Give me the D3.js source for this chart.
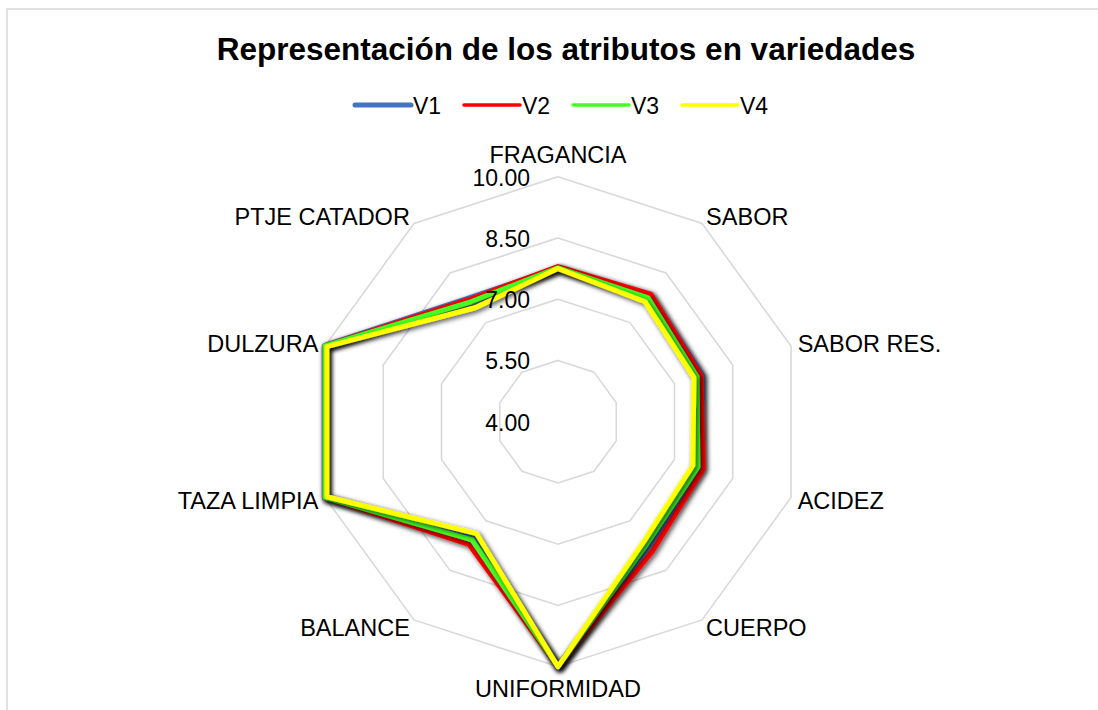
<!DOCTYPE html>
<html>
<head>
<meta charset="utf-8">
<script src="https://cdn.jsdelivr.net/npm/d3@7"></script>
<style>
  html, body { margin: 0; padding: 0; background: #fff; }
  svg { display: block; font-family: "Liberation Sans", Arial, sans-serif; }
</style>
</head>
<body>
<svg id="chart" width="1098" height="710"></svg>
<script>
const title = "Representación de los atributos en variedades";
const categories = ["FRAGANCIA", "SABOR", "SABOR RES.", "ACIDEZ", "CUERPO", "UNIFORMIDAD", "BALANCE", "TAZA LIMPIA", "DULZURA", "PTJE CATADOR"];
const seriesNames = ["V1", "V2", "V3", "V4"];
const v1 = [7.75, 7.83, 7.70, 7.67, 7.75, 10.00, 7.50, 10.00, 10.00, 7.72];
const v2 = [7.80, 7.86, 7.68, 7.74, 7.93, 10.00, 7.71, 10.00, 10.00, 7.70];
const v3 = [7.77, 7.75, 7.58, 7.60, 7.70, 10.00, 7.58, 10.00, 10.00, 7.63];
const v4 = [7.75, 7.63, 7.50, 7.47, 7.60, 10.00, 7.39, 9.95, 9.95, 7.45];
const tickValues = [4.00, 5.50, 7.00, 8.50, 10.00];
const colors = ["#4472C4", "#FF0000", "#44FF22", "#FFFF00"];
const widths = [6.5, 5, 5, 5];
const legendWidths = [5, 3.5, 3.5, 3.5];

const seriesValues = [v1, v2, v3, v4];

const svg = d3.select("#chart");
const W = 1098, H = 710;
const cx = 558, cy = 421.7, R = 245;

// border (chart area frame)
svg.append("rect").attr("x", 7).attr("y", 9).attr("width", W + 20).attr("height", H + 20)
  .attr("fill", "#fff").attr("stroke", "#D9D9D9").attr("stroke-width", 1.5);

// drop shadow filter
const defs = svg.append("defs");
const f = defs.append("filter").attr("id", "shadow").attr("x", "-20%").attr("y", "-20%").attr("width", "140%").attr("height", "140%");
f.append("feDropShadow").attr("dx", 2).attr("dy", 2).attr("stdDeviation", 2.5)
  .attr("flood-color", "#000").attr("flood-opacity", 0.7);

// title
svg.append("text").attr("x", 566).attr("y", 60).attr("text-anchor", "middle")
  .attr("font-size", 31.5).attr("font-weight", "bold").attr("fill", "#000").text(title);

// legend
const legendY = 105, itemStep = 109, lineLen = 56;
const lg = svg.append("g");
seriesNames.forEach((name, i) => {
  const x0 = 355 + i * itemStep;
  lg.append("line").attr("x1", x0).attr("x2", x0 + lineLen).attr("y1", legendY).attr("y2", legendY)
    .attr("stroke", colors[i]).attr("stroke-width", legendWidths[i]).attr("stroke-linecap", "round");
  lg.append("text").attr("x", x0 + lineLen + 2).attr("y", legendY + 8.5).attr("font-size", 23)
    .attr("fill", "#000").text(name);
});

// scales
const r = d3.scaleLinear().domain([4, 10]).range([0, R]);
const angle = d3.scaleBand().domain(categories).range([0, 2 * Math.PI]).paddingInner(0).paddingOuter(0).align(0);
const ang = c => angle(c);

// grid rings
const gridG = svg.append("g");
tickValues.slice(1).forEach(t => {
  const pts = categories.map(c => [cx + Math.sin(ang(c)) * r(t), cy - Math.cos(ang(c)) * r(t)]);
  gridG.append("path").attr("d", d3.line().curve(d3.curveLinearClosed)(pts))
    .attr("fill", "none").attr("stroke", "#D9D9D9").attr("stroke-width", 1.6);
});

// series
const lineRadial = d3.lineRadial().angle((d, i) => ang(categories[i])).radius(d => r(d)).curve(d3.curveLinearClosed);
const sg = svg.append("g").attr("transform", `translate(${cx},${cy})`);
seriesValues.forEach((vals, i) => {
  sg.append("path").attr("d", lineRadial(vals)).attr("fill", "none")
    .attr("stroke", colors[i]).attr("stroke-width", widths[i]).attr("stroke-linejoin", "round")
    .attr("filter", "url(#shadow)");
});

// tick labels
tickValues.forEach(t => {
  svg.append("text").attr("x", cx - 28).attr("y", cy - r(t) + 9).attr("text-anchor", "end")
    .attr("font-size", 23).attr("fill", "#000").text(t.toFixed(2));
});

// category labels
categories.forEach(c => {
  const a = ang(c), s = Math.sin(a), co = Math.cos(a);
  let x = cx + s * (R + 7);
  let yc = cy - co * (R + 9);
  if (Math.abs(co) > 0.99) yc -= Math.sign(co) * 13;
  const anchor = Math.abs(s) < 0.01 ? "middle" : (s > 0 ? "start" : "end");
  svg.append("text").attr("x", x).attr("y", yc + 8.5).attr("text-anchor", anchor)
    .attr("font-size", 23.5).attr("fill", "#000").text(c);
});
</script>
</body>
</html>
